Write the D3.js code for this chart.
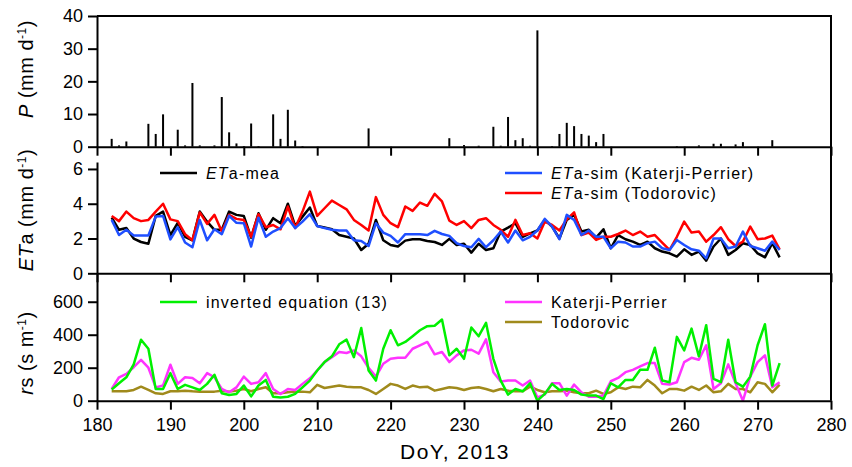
<!DOCTYPE html>
<html>
<head>
    <meta charset="utf-8">
    <title>P, ETa and rs - DoY 2013</title>
    <script type="text/javascript" src="https://cdn.jsdelivr.net/npm/d3@7"></script>
    <style type="text/css">
        body { margin: 0; background: #fff; }
        svg text { font-family: "Liberation Sans", Arial, sans-serif; fill: #000; }
        .axis path, .axis line { stroke: #000; stroke-width: 2; }
        .axis text { font-size: 18px; }
        .legend text { font-size: 16px; letter-spacing: 1.2px; }
        .ytitle { font-size: 20px; letter-spacing: 0.5px; }
    </style>
</head>
<body>
<div id="app"></div>

<script type="text/javascript">
    // ---- data ----
    // rainfall, mm/d
    var rainDays = [182, 183, 184, 187, 188, 189, 191, 192, 193, 194, 196, 197, 198, 199, 200, 201, 202, 204, 205, 206, 207, 208,
        217, 228, 230, 232, 234, 235, 236, 237, 238, 239, 240, 242, 243, 244, 245, 246, 247, 248, 249, 259, 262, 264, 265, 267, 268, 272];
    var rainVals = [2.4, 0.4, 1.6, 7.0, 3.9, 9.9, 5.2, 0.4, 19.5, 0.4, 0.4, 15.2, 4.4, 1.0, 0.2, 7.1, 0.2, 9.9, 2.4, 11.3, 1.9, 0.2,
        5.6, 2.6, 0.5, 0.3, 6.1, 0.3, 9.1, 2.0, 2.6, 0.3, 35.6, 0.2, 3.9, 7.3, 6.3, 3.9, 3.4, 1.4, 3.9, 0.2, 0.4, 0.9, 0.9, 0.7, 1.4, 2.0];

    // day of year for the ET / rs series
    var days = [182, 183, 184, 185, 186, 187, 188, 189, 190, 191,
        192, 193, 194, 195, 196, 197, 198, 199, 200, 201,
        202, 203, 204, 205, 206, 207, 208, 209, 210, 211,
        212, 213, 214, 215, 216, 217, 218, 219, 220, 221,
        222, 223, 224, 225, 226, 227, 228, 229, 230, 231,
        232, 233, 234, 235, 236, 237, 238, 239, 240, 241,
        242, 243, 244, 245, 246, 247, 248, 249, 250, 251,
        252, 253, 254, 255, 256, 257, 258, 259, 260, 261,
        262, 263, 264, 265, 266, 267, 268, 269, 270, 271,
        272, 273];

    // ETa, mm/d
    var etaMea = [3.2, 2.5, 2.6, 2.0, 1.8, 1.7, 3.3, 3.55, 2.2, 2.9,
        2.1, 1.9, 3.55, 2.97, 2.5, 2.5, 3.55, 3.36, 3.3, 2.05,
        3.45, 2.5, 3.17, 2.88, 4.0, 2.72, 3.26, 3.78, 2.72, 2.63,
        2.53, 2.2, 2.1, 2.0, 1.34, 1.7, 3.07, 1.9, 1.63, 1.54,
        1.88, 1.96, 1.96, 1.86, 1.8, 1.63, 1.98, 1.63, 1.7, 1.19,
        1.7, 1.34, 1.44, 2.4, 2.63, 2.88, 2.1, 2.3, 2.46, 3.07,
        2.69, 2.0, 3.07, 3.36, 2.4, 2.5, 2.05, 2.53, 1.44, 2.2,
        1.96, 1.82, 1.63, 1.82, 1.44, 1.25, 1.15, 0.96, 1.38, 1.06,
        1.25, 0.73, 1.54, 2.0, 1.06, 1.34, 1.73, 1.63, 1.15, 0.92,
        1.73, 0.92];
    var etaKP = [3.07, 2.2, 2.5, 2.17, 2.17, 2.17, 3.26, 3.3, 1.95, 2.65,
        1.77, 1.5, 3.07, 1.9, 2.53, 2.25, 3.3, 2.9, 2.88, 1.54,
        3.2, 2.1, 2.4, 2.6, 3.17, 2.6, 2.97, 3.4, 2.72, 2.6,
        2.5, 2.46, 2.46, 1.9, 1.86, 1.57, 2.88, 2.34, 2.15, 1.77,
        2.25, 2.25, 2.25, 2.2, 2.44, 2.26, 2.15, 1.73, 1.57, 1.5,
        1.98, 1.5, 1.9, 2.4, 1.77, 2.46, 1.9, 2.1, 2.46, 3.13,
        2.69, 1.96, 3.36, 3.07, 2.2, 2.46, 2.1, 2.1, 1.44, 1.82,
        1.77, 1.54, 1.54, 1.73, 1.82, 1.44, 1.34, 1.92, 1.63, 1.38,
        1.3, 0.86, 2.0, 2.0, 1.44, 1.54, 2.4, 1.57, 1.44, 1.3,
        1.82, 1.34];
    var etaTod = [3.3, 3.0, 3.55, 3.17, 3.0, 3.07, 3.55, 4.0, 3.1, 3.0,
        2.25, 1.9, 3.5, 2.84, 3.36, 2.4, 3.36, 3.13, 3.07, 2.1,
        3.4, 2.65, 2.78, 2.53, 3.84, 2.6, 3.55, 4.7, 3.3, 3.74,
        4.18, 3.93, 3.68, 3.07, 2.78, 2.46, 4.38, 3.36, 2.88, 2.65,
        3.84, 3.59, 4.07, 3.88, 4.57, 4.13, 3.03, 2.78, 3.0, 2.6,
        3.07, 3.17, 2.78, 2.5, 2.1, 3.07, 2.2, 2.3, 2.0, 2.97,
        2.78, 2.46, 3.1, 3.5, 2.2, 2.34, 1.92, 2.1, 2.1, 2.26,
        2.46, 2.2, 2.4, 2.1, 2.2, 1.77, 1.34, 2.1, 2.97, 2.34,
        2.4, 1.82, 2.2, 2.65, 1.96, 1.57, 1.82, 2.69, 1.96, 2.0,
        2.17, 1.38];

    // rs, s/m
    var rsInv = [67, 106, 142, 220, 370, 315, 71, 71, 167, 71,
        96, 81, 65, 102, 157, 45, 35, 41, 92, 26,
        92, 126, 24, 20, 24, 41, 81, 122, 183, 234,
        269, 342, 370, 264, 441, 183, 122, 315, 427, 336,
        356, 391, 427, 452, 454, 492, 275, 315, 254, 444,
        391, 472, 254, 122, 37, 71, 57, 106, 0, 41,
        102, 65, 71, 65, 37, 31, 31, 10, 106, 81,
        126, 126, 187, 187, 321, 122, 112, 387, 305, 437,
        269, 458, 132, 112, 370, 112, 85, 146, 336, 464,
        92, 228];
    var rsKP = [71, 142, 163, 203, 248, 200, 81, 92, 218, 102,
        142, 138, 106, 167, 142, 71, 51, 81, 146, 102,
        112, 167, 71, 41, 71, 65, 102, 136, 183, 234,
        264, 295, 289, 305, 269, 200, 146, 224, 254, 260,
        260, 315, 336, 356, 281, 295, 234, 275, 305, 309,
        285, 372, 173, 116, 122, 122, 92, 122, 20, 37,
        106, 106, 31, 98, 51, 24, 24, 31, 118, 138,
        173, 187, 208, 228, 228, 102, 98, 112, 234, 260,
        248, 336, 71, 106, 220, 106, 0, 146, 234, 275,
        81, 112];
    var rsTod = [57, 57, 57, 65, 85, 65, 45, 41, 57, 57,
        61, 57, 55, 55, 55, 61, 55, 61, 71, 57,
        71, 81, 45, 45, 51, 55, 55, 51, 96, 77,
        85, 92, 85, 81, 81, 65, 41, 71, 102, 92,
        71, 92, 81, 85, 61, 71, 81, 77, 65, 77,
        81, 71, 57, 71, 61, 57, 57, 85, 65, 51,
        57, 57, 61, 51, 45, 45, 61, 41, 51, 81,
        71, 85, 81, 126, 92, 45, 71, 71, 61, 85,
        65, 92, 51, 57, 102, 71, 71, 51, 112, 102,
        51, 98];

    var xTicks = [180, 190, 200, 210, 220, 230, 240, 250, 260, 270, 280];
    var pTicks = [0, 10, 20, 30, 40];
    var etTicks = [0, 2, 4, 6];
    var rsTicks = [0, 200, 400, 600];

    !function () {
        const w = 852, h = 467;
        const left = 97, right = 831;
        const svg = d3.select('#app').append('svg').attr('width', w).attr('height', h);

        const x = d3.scaleLinear().domain([180, 280]).range([left, right]);
        // three stacked panels
        const yP = d3.scaleLinear().domain([0, 40]).range([146.7, 16]);
        const yEt = d3.scaleLinear().domain([0, 6.4]).range([273.3, 162]);
        const yRs = d3.scaleLinear().domain([0, 770]).range([400.7, 273.7]);

        ///rain bars
        svg.append('g').selectAll('rect')
            .data(rainVals)
            .enter()
            .append('rect')
            .attr('x', function (d, i) { return x(rainDays[i]) - 1; })
            .attr('y', function (d) { return yP(d); })
            .attr('width', 2)
            .attr('height', function (d) { return yP(0) - yP(d); })
            .attr('fill', '#000');

        function drawLine(vals, yScale, color) {
            const line = d3.line()
                .x(function (d, i) { return x(days[i]); })
                .y(function (d) { return yScale(d); });
            svg.append('path')
                .datum(vals)
                .attr('d', line)
                .attr('fill', 'none')
                .attr('stroke', color)
                .attr('stroke-width', 2.5)
                .attr('stroke-linejoin', 'round');
        }

        const cBlack = '#000000', cBlue = '#1f4fff', cRed = '#ff0000';
        const cGreen = '#00f000', cMag = '#ff33ff', cOlive = '#a08a1c';

        drawLine(etaMea, yEt, cBlack);
        drawLine(etaTod, yEt, cRed);
        drawLine(etaKP, yEt, cBlue);

        drawLine(rsTod, yRs, cOlive);
        drawLine(rsKP, yRs, cMag);
        drawLine(rsInv, yRs, cGreen);

        ///axes
        function leftAxis(scale, ticks) {
            svg.append('g').attr('class', 'axis')
                .attr('transform', 'translate(' + left + ',0)')
                .call(d3.axisLeft(scale).tickValues(ticks).tickFormat(d3.format('d'))
                    .tickSize(9).tickSizeOuter(0).tickPadding(5));
        }
        leftAxis(yP, pTicks);
        leftAxis(yEt, etTicks);
        leftAxis(yRs, rsTicks);

        function bottomAxis(y0, withLabels) {
            const ax = d3.axisBottom(x).tickValues(xTicks).tickSize(9).tickSizeOuter(0).tickPadding(9);
            if (!withLabels) ax.tickFormat('');
            svg.append('g').attr('class', 'axis')
                .attr('transform', 'translate(0,' + y0 + ')')
                .call(ax);
        }
        bottomAxis(yP(0), false);
        bottomAxis(yEt(0), false);
        bottomAxis(yRs(0), true);

        // top and right frame
        svg.append('path')
            .attr('d', 'M' + left + ',' + yP.range()[1] + 'H' + right + 'V' + yRs(0))
            .attr('fill', 'none').attr('stroke', '#000').attr('stroke-width', 2);

        ///axis titles
        function yTitle(cx, cy, parts) {
            const t = svg.append('text').attr('class', 'ytitle')
                .attr('text-anchor', 'middle')
                .attr('transform', 'translate(' + cx + ',' + cy + ') rotate(-90)');
            parts.forEach(function (p) {
                const s = t.append('tspan').text(p.t);
                if (p.i) s.attr('font-style', 'italic');
                if (p.sup) s.attr('font-size', '12px').attr('dy', '-0.6em');
                if (p.down) s.attr('dy', '0.36em');
            });
        }
        yTitle(33, 69, [{t: 'P', i: 1}, {t: ' (mm d'}, {t: '-1', sup: 1}, {t: ')', down: 1}]);
        yTitle(33, 210, [{t: 'ET', i: 1}, {t: 'a (mm d'}, {t: '-1', sup: 1}, {t: ')', down: 1}]);
        yTitle(33, 353, [{t: 'r', i: 1}, {t: 's (s m'}, {t: '-1', sup: 1}, {t: ')', down: 1}]);

        svg.append('text')
            .attr('x', 455).attr('y', 459)
            .attr('text-anchor', 'middle')
            .style('font-size', '21px').style('letter-spacing', '1.5px')
            .text('DoY, 2013');

        ///legends
        const lg = svg.append('g').attr('class', 'legend');
        function legend(x0, y0, color, parts) {
            lg.append('line').attr('x1', x0).attr('x2', x0 + 37).attr('y1', y0).attr('y2', y0)
                .attr('stroke', color).attr('stroke-width', 2.5);
            const t = lg.append('text').attr('x', x0 + 46).attr('y', y0 + 5.5);
            parts.forEach(function (p) {
                const s = t.append('tspan').text(p.t);
                if (p.i) s.attr('font-style', 'italic');
            });
        }
        legend(160, 173, cBlack, [{t: 'ET', i: 1}, {t: 'a-mea'}]);
        legend(505, 173, cBlue, [{t: 'ET', i: 1}, {t: 'a-sim (Katerji-Perrier)'}]);
        legend(505, 193, cRed, [{t: 'ET', i: 1}, {t: 'a-sim (Todorovic)'}]);
        legend(160, 302, cGreen, [{t: 'inverted equation (13)'}]);
        legend(505, 302, cMag, [{t: 'Katerji-Perrier'}]);
        legend(505, 322, cOlive, [{t: 'Todorovic'}]);
    }();
</script>
</body>
</html>
